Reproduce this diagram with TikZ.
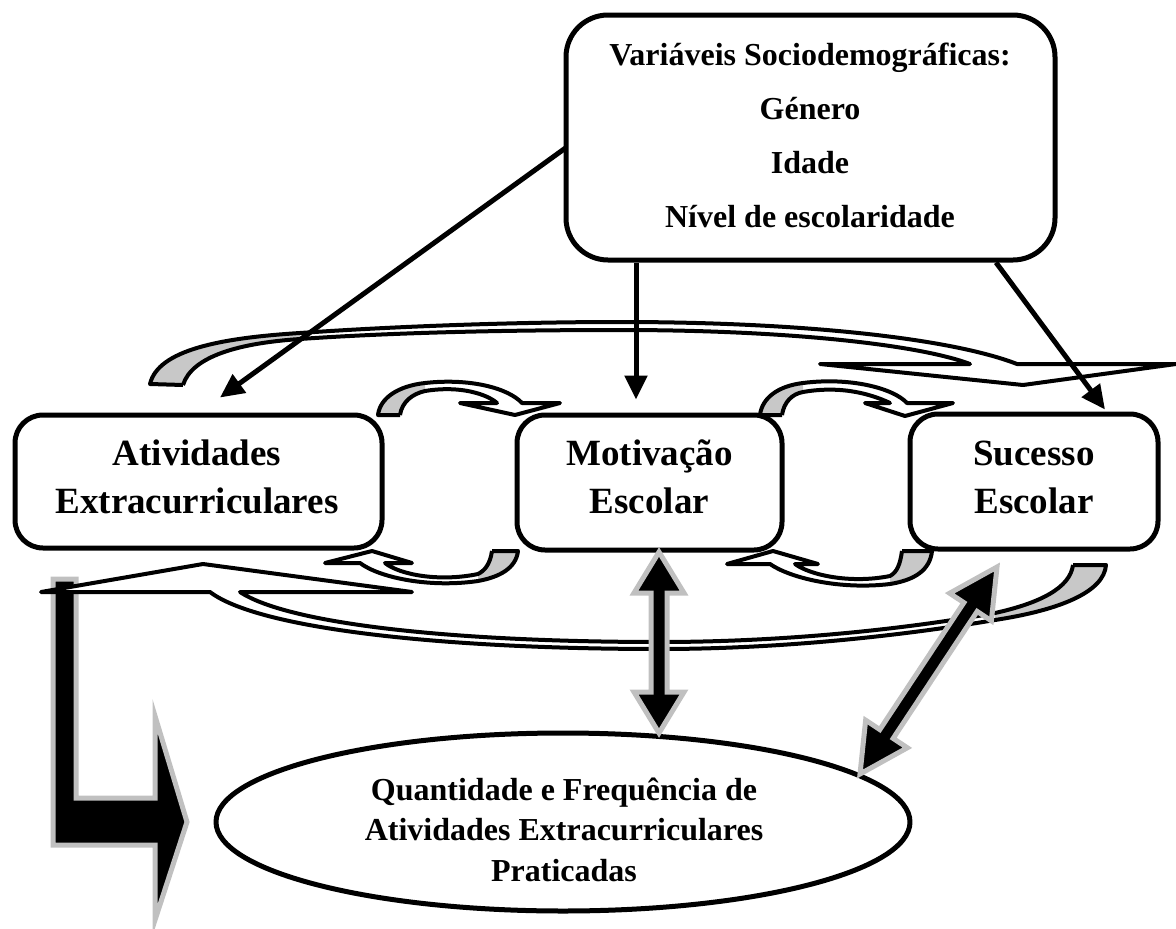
\documentclass[tikz,border=0pt]{standalone}
\usepackage{fontspec}
\setmainfont{Liberation Serif}
\usetikzlibrary{arrows.meta,calc,shapes.geometric}
\definecolor{backface}{RGB}{200,200,200}
\definecolor{halo}{RGB}{192,192,192}

% double-headed block arrow from #1 to #2, head length #3
\newcommand\twowayarrow[3]{%
  \coordinate (ta) at ($(#1)!#3!(#2)$);
  \coordinate (tb) at ($(#2)!#3!(#1)$);
  \filldraw[block] (#1) -- ($(ta)!25pt!90:(#1)$) -- ($(ta)!8pt!90:(#1)$)
    -- ($(tb)!8pt!90:(#1)$) -- ($(tb)!25pt!90:(#1)$) -- (#2)
    -- ($(tb)!25pt!-90:(#1)$) -- ($(tb)!8pt!-90:(#1)$)
    -- ($(ta)!8pt!-90:(#1)$) -- ($(ta)!25pt!-90:(#1)$) -- cycle;
}

\begin{document}
\begin{tikzpicture}[x=1pt,y=-1pt,line join=round,
  card/.style={draw,line width=5pt,fill=white,rounded corners=28pt,inner sep=0pt},
  cardtext/.style={font=\fontsize{37}{44}\selectfont\bfseries,anchor=base,inner sep=0pt},
  toptext/.style={font=\fontsize{32}{38}\selectfont\bfseries,anchor=base,inner sep=0pt},
  ovaltext/.style={font=\fontsize{32}{38}\selectfont\bfseries,anchor=base,inner sep=0pt},
  link/.style={line width=5pt,-{Triangle[length=24pt,width=22pt]}},
  ribbon/.style={fill=white},
  underside/.style={fill=backface},
  rim/.style={draw,line width=4pt},
  block/.style={fill=black,draw=halo,line width=5pt,line join=miter},
]
\useasboundingbox (0,0) rectangle (1176,929);

% boxes
\node[card,rounded corners=42pt,minimum width=489pt,minimum height=245pt] (vars) at (810.5,137.5) {};
\node[card,minimum width=367pt,minimum height=133pt] (ae) at (198.5,481.5) {};
\node[card,minimum width=265pt,minimum height=135pt] (mo) at (649.5,482.5) {};
\node[card,minimum width=248pt,minimum height=135pt] (se) at (1034,481.5) {};
\node[draw,ellipse,line width=5pt,fill=white,minimum width=694pt,minimum height=178pt,inner sep=0pt] (qf) at (563,822) {};

% bent arrow from Atividades down to the oval
\filldraw[block] (53,579) -- (76,579) -- (76,798) -- (155,798) -- (155,716)
  -- (187,822) -- (155,920) -- (155,845) -- (53,845) -- cycle;

% top curved arrow: Atividades -> Sucesso
\fill[ribbon] (150,384) .. controls (158,350) and (220,338) .. (300,333)
  .. controls (400,326) and (520,322) .. (620,322)
  .. controls (800,322) and (950,338) .. (1017,364)
  -- (970,364) .. controls (920,345) and (790,330) .. (620,330)
  .. controls (520,330) and (400,332) .. (300,339)
  .. controls (240,343) and (192,356) .. (183,385) -- cycle;
\fill[ribbon] (820,364) -- (1176,364) -- (1023,385) -- cycle;
\fill[underside] (150,384) .. controls (158,350) and (220,338) .. (300,333)
  -- (300,339) .. controls (240,343) and (192,356) .. (183,385) -- cycle;
\draw[rim] (183,385) -- (150,384) .. controls (158,350) and (220,338) .. (300,333)
  .. controls (400,326) and (520,322) .. (620,322)
  .. controls (800,322) and (950,338) .. (1017,364)
  -- (1176,364) -- (1023,385) -- (820,364) -- (970,364)
  .. controls (920,345) and (790,330) .. (620,330)
  .. controls (520,330) and (400,332) .. (300,339)
  .. controls (240,343) and (192,356) .. (183,385);

% bottom curved arrow: Sucesso -> Atividades
\fill[ribbon] (1106,565) .. controls (1104,592) and (1060,610) .. (995,620)
  .. controls (900,636) and (780,649) .. (660,649)
  .. controls (450,649) and (260,630) .. (210,592)
  -- (240,592) .. controls (290,625) and (460,642) .. (660,642)
  .. controls (780,642) and (900,630) .. (995,613)
  .. controls (1040,603) and (1070,588) .. (1073,565) -- cycle;
\fill[ribbon] (41,592) -- (203,564) -- (412,592) -- cycle;
\fill[underside] (1106,565) .. controls (1104,592) and (1060,610) .. (995,620)
  -- (995,613) .. controls (1040,603) and (1070,588) .. (1073,565) -- cycle;
\draw[rim] (1073,565) -- (1106,565) .. controls (1104,592) and (1060,610) .. (995,620)
  .. controls (900,636) and (780,649) .. (660,649)
  .. controls (450,649) and (260,630) .. (210,592)
  -- (41,592) -- (203,564) -- (412,592) -- (240,592)
  .. controls (290,625) and (460,642) .. (660,642)
  .. controls (780,642) and (900,630) .. (995,613)
  .. controls (1040,603) and (1070,588) .. (1073,565);

% small curved arrow: Atividades -> Motivacao (over)
\fill[ribbon] (378,415) .. controls (380,398) and (398,386) .. (425,383)
  .. controls (470,378) and (508,388) .. (522,403)
  -- (497,403) .. controls (488,395) and (462,385) .. (425,391)
  .. controls (412,394) and (402,402) .. (400,415) -- cycle;
\fill[ribbon] (460,403) -- (560,403) -- (515,415) -- cycle;
\fill[underside] (378,415) .. controls (380,398) and (398,386) .. (425,383)
  -- (425,391) .. controls (412,394) and (402,402) .. (400,415) -- cycle;
\draw[rim] (400,415) -- (378,415) .. controls (380,398) and (398,386) .. (425,383)
  .. controls (470,378) and (508,388) .. (522,403)
  -- (560,403) -- (515,415) -- (460,403) -- (497,403)
  .. controls (488,395) and (462,385) .. (425,391)
  .. controls (412,394) and (402,402) .. (400,415);

% small curved arrow: Motivacao -> Sucesso (over)
\fill[ribbon] (760,415) .. controls (762,398) and (778,386) .. (803,383)
  .. controls (850,377) and (893,388) .. (907,403)
  -- (890,403) .. controls (873,395) and (843,385) .. (803,392)
  .. controls (792,394) and (784,402) .. (782,415) -- cycle;
\fill[ribbon] (865,403) -- (953,403) -- (905,416) -- cycle;
\fill[underside] (760,415) .. controls (762,398) and (778,386) .. (803,383)
  -- (803,392) .. controls (792,394) and (784,402) .. (782,415) -- cycle;
\draw[rim] (782,415) -- (760,415) .. controls (762,398) and (778,386) .. (803,383)
  .. controls (850,377) and (893,388) .. (907,403)
  -- (953,403) -- (905,416) -- (865,403) -- (890,403)
  .. controls (873,395) and (843,385) .. (803,392)
  .. controls (792,394) and (784,402) .. (782,415);

% small curved arrow: Motivacao -> Atividades (under)
\fill[ribbon] (518,551) .. controls (516,568) and (500,577) .. (478,581)
  .. controls (430,588) and (380,578) .. (360,563)
  -- (385,563) .. controls (400,575) and (440,582) .. (478,574)
  .. controls (484,571) and (490,565) .. (492,551) -- cycle;
\fill[ribbon] (325,563) -- (372,551) -- (412,563) -- cycle;
\fill[underside] (518,551) .. controls (516,568) and (500,577) .. (478,581)
  -- (478,574) .. controls (484,571) and (490,565) .. (492,551) -- cycle;
\draw[rim] (492,551) -- (518,551) .. controls (516,568) and (500,577) .. (478,581)
  .. controls (430,588) and (380,578) .. (360,563)
  -- (325,563) -- (372,551) -- (412,563) -- (385,563)
  .. controls (400,575) and (440,582) .. (478,574)
  .. controls (484,571) and (490,565) .. (492,551);

% small curved arrow: Sucesso -> Motivacao (under)
\fill[ribbon] (932,551) .. controls (930,570) and (915,580) .. (890,584)
  .. controls (840,590) and (790,578) .. (770,564)
  -- (795,564) .. controls (810,575) and (850,584) .. (890,576)
  .. controls (897,572) and (900,565) .. (902,551) -- cycle;
\fill[ribbon] (727,564) -- (773,551) -- (818,564) -- cycle;
\fill[underside] (932,551) .. controls (930,570) and (915,580) .. (890,584)
  -- (890,576) .. controls (897,572) and (900,565) .. (902,551) -- cycle;
\draw[rim] (902,551) -- (932,551) .. controls (930,570) and (915,580) .. (890,584)
  .. controls (840,590) and (790,578) .. (770,564)
  -- (727,564) -- (773,551) -- (818,564) -- (795,564)
  .. controls (810,575) and (850,584) .. (890,576)
  .. controls (897,572) and (900,565) .. (902,551);

% block arrows towards the oval
\coordinate (mU) at (659,552);
\coordinate (mD) at (659,733);
\twowayarrow{mU}{mD}{41pt}
\coordinate (sU) at (997,567);
\coordinate (sD) at (860,774);
\twowayarrow{sU}{sD}{48pt}

% arrows from the sociodemographic variables
\draw[link] ([xshift=2pt,yshift=-10.5pt]vars.west) -- ([xshift=21.5pt,yshift=15pt]ae.north);
\draw[link] ([xshift=-174.5pt]vars.south) -- ([xshift=-13.5pt,yshift=13pt]mo.north);
\draw[link] ([xshift=185.5pt]vars.south) -- ([xshift=71pt,yshift=2pt]se.north);

% texts
\node[toptext] (v1) at (810,65) {Variáveis Sociodemográficas:};
\node[toptext] (v2) at (810,119) {Género};
\node[toptext] (v3) at (810,173) {Idade};
\node[toptext] (v4) at (810,227) {Nível de escolaridade};
\node[cardtext] (ae1) at (197,465) {Atividades};
\node[cardtext] (ae2) at (197,513) {Extracurriculares};
\node[cardtext] (mo1) at (649.5,465) {Motivação};
\node[cardtext] (mo2) at (649.5,513) {Escolar};
\node[cardtext] (se1) at (1034,465) {Sucesso};
\node[cardtext] (se2) at (1034,513) {Escolar};
\node[ovaltext] (q1) at (564,800) {Quantidade e Frequência de};
\node[ovaltext] (q2) at (564,840) {Atividades Extracurriculares};
\node[ovaltext] (q3) at (564,881) {Praticadas};
\end{tikzpicture}
\end{document}
